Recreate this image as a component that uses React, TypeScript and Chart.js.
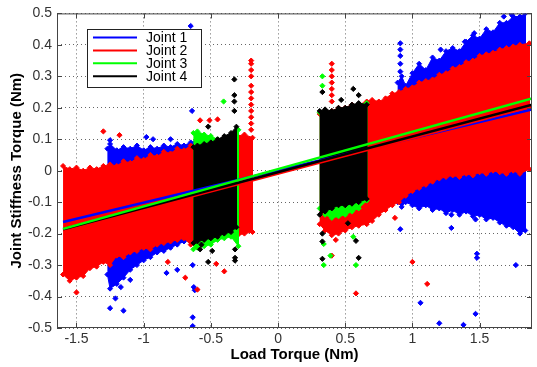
import React, { useEffect, useRef } from 'react';
import { Chart, registerables } from 'chart.js';

Chart.register(...registerables);

// ---------- axes ----------
const xTickValues = [-1.5, -1, -0.5, 0, 0.5, 1, 1.5];
const xTickLabels = ['-1.5', '-1', '-0.5', '0', '0.5', '1', '1.5'];
const yTickValues = [-0.5, -0.4, -0.3, -0.2, -0.1, 0, 0.1, 0.2, 0.3, 0.4, 0.5];
const yTickLabels = ['-0.5', '-0.4', '-0.3', '-0.2', '-0.1', '0', '0.1', '0.2', '0.3', '0.4', '0.5'];
const legendLabels = ['Joint 1', 'Joint 2', 'Joint 3', 'Joint 4'];

// ---------- Joint 1 (blue) clouds ----------
const j1LeftX = [-1.27, -1.25, -1.2, -1.15, -1.1, -1.05, -1.0, -0.95, -0.9, -0.85, -0.8, -0.75, -0.7, -0.65, -0.62];
const j1LeftUpper = [0.07, 0.085, 0.065, 0.075, 0.07, 0.08, 0.065, 0.075, 0.07, 0.08, 0.075, 0.085, 0.08, 0.09, 0.09];
const j1LeftLower = [-0.33, -0.375, -0.36, -0.34, -0.315, -0.3, -0.285, -0.275, -0.26, -0.255, -0.245, -0.235, -0.225, -0.215, -0.21];
const j1RightX = [0.89, 0.92, 0.95, 1.0, 1.05, 1.1, 1.15, 1.2, 1.25, 1.3, 1.35, 1.4, 1.45, 1.5, 1.55, 1.6, 1.65, 1.7, 1.75, 1.8, 1.84];
const j1RightUpper = [0.28, 0.3, 0.27, 0.31, 0.34, 0.32, 0.36, 0.35, 0.38, 0.39, 0.38, 0.41, 0.43, 0.42, 0.45, 0.44, 0.47, 0.47, 0.49, 0.49, 0.5];
const j1RightLower = [-0.1, -0.115, -0.1, -0.11, -0.12, -0.11, -0.125, -0.12, -0.135, -0.125, -0.14, -0.13, -0.145, -0.14, -0.155, -0.15, -0.165, -0.175, -0.18, -0.2, -0.19];
const j1OutX = [-0.65, -0.64, -1.25, -0.98, -0.93, -0.8, -1.25, -1.21, -1.15, -1.17, -1.1, -0.83, -0.75, -0.635, -0.627, -0.62, -0.635, -0.635, 0.91, 1.06, 1.2, 1.38, 1.47, 1.48, 1.48, 1.29, 1.29, 1.77, 1.47, 0.91, 0.91, 0.91, 0.91, 0.91, 1.21, 1.39, 1.46, 1.68, 1.74];
const j1OutY = [0.46, 0.19, 0.097, 0.107, 0.1, 0.1, -0.437, -0.406, -0.445, -0.37, -0.347, -0.325, -0.315, -0.3, -0.37, -0.38, -0.466, -0.494, -0.186, -0.42, -0.485, -0.49, -0.455, -0.264, -0.277, -0.182, -0.14, -0.3, -0.155, 0.405, 0.385, 0.365, 0.34, 0.315, 0.385, 0.41, 0.437, 0.49, 0.495];

// ---------- Joint 2 (red) clouds ----------
const j2LeftX = [-1.6, -1.55, -1.5, -1.45, -1.4, -1.35, -1.3, -1.25, -1.2, -1.15, -1.1, -1.05, -1.0, -0.95, -0.9, -0.85, -0.8, -0.75, -0.7, -0.65, -0.6, -0.5, -0.4, -0.3, -0.25, -0.19];
const j2LeftUpper = [0.015, 0.005, 0.01, 0.0, 0.01, 0.005, 0.015, 0.02, 0.015, 0.03, 0.025, 0.04, 0.035, 0.05, 0.045, 0.06, 0.055, 0.07, 0.065, 0.08, 0.085, 0.095, 0.105, 0.11, 0.115, 0.105];
const j2LeftLower = [-0.33, -0.35, -0.34, -0.335, -0.31, -0.305, -0.29, -0.3, -0.27, -0.275, -0.26, -0.255, -0.245, -0.25, -0.235, -0.23, -0.225, -0.22, -0.215, -0.235, -0.23, -0.22, -0.21, -0.205, -0.2, -0.195];
const j2RightX = [0.31, 0.35, 0.4, 0.45, 0.5, 0.55, 0.6, 0.66, 0.7, 0.75, 0.8, 0.85, 0.9, 0.95, 1.0, 1.05, 1.1, 1.15, 1.2, 1.25, 1.3, 1.35, 1.4, 1.45, 1.5, 1.55, 1.6, 1.65, 1.7, 1.75, 1.8, 1.87];
const j2RightUpper = [0.18, 0.19, 0.19, 0.2, 0.2, 0.21, 0.21, 0.22, 0.225, 0.22, 0.23, 0.245, 0.25, 0.26, 0.265, 0.28, 0.285, 0.29, 0.305, 0.31, 0.325, 0.33, 0.345, 0.35, 0.365, 0.37, 0.375, 0.385, 0.39, 0.395, 0.4, 0.405];
const j2RightLower = [-0.17, -0.19, -0.205, -0.2, -0.19, -0.18, -0.175, -0.17, -0.16, -0.14, -0.125, -0.11, -0.1, -0.08, -0.065, -0.055, -0.045, -0.035, -0.025, -0.02, -0.015, -0.02, -0.01, -0.015, -0.005, -0.01, 0.0, -0.005, -0.01, 0.0, -0.01, 0.005];
const j2OutX = [-1.3, -1.18, -0.58, -0.51, -0.45, -0.2, -0.2, -0.2, -0.2, -0.2, -0.2, -0.2, -0.2, -0.2, -0.2, -0.2, -0.2, -1.5, -0.82, -0.69, -0.6, -0.46, -0.4, 1.0, 1.11, 0.58, 0.4, 0.43, 0.87, 0.4, 0.4, 0.4, 0.4, 0.4, 0.4, 0.4];
const j2OutY = [0.125, 0.113, 0.16, 0.16, 0.163, 0.35, 0.34, 0.32, 0.3, 0.27, 0.25, 0.23, 0.21, 0.19, 0.17, 0.15, 0.13, -0.387, -0.29, -0.34, -0.378, -0.296, -0.32, -0.29, -0.36, -0.39, -0.27, -0.22, -0.15, 0.34, 0.32, 0.3, 0.28, 0.26, 0.24, 0.22];

// ---------- Joint 3 (green) clouds ----------
const j3LeftX = [-0.63, -0.6, -0.55, -0.5, -0.45, -0.4, -0.35, -0.295];
const j3LeftUpper = [0.12, 0.125, 0.115, 0.11, 0.1, 0.095, 0.1, 0.13];
const j3LeftLower = [-0.25, -0.245, -0.24, -0.235, -0.22, -0.215, -0.21, -0.24];
const j3RightX = [0.31, 0.35, 0.4, 0.45, 0.5, 0.55, 0.6, 0.66];
const j3RightUpper = [0.185, 0.19, 0.185, 0.195, 0.195, 0.2, 0.21, 0.215];
const j3RightLower = [-0.12, -0.14, -0.15, -0.145, -0.14, -0.13, -0.12, -0.095];
const j3OutX = [-0.405, 0.33, 0.33, 0.34, 0.39, 0.34, 0.56, 0.58];
const j3OutY = [0.22, 0.3, 0.27, -0.233, -0.27, -0.3, -0.21, -0.3];

// ---------- Joint 4 (black) clouds ----------
const j4LeftX = [-0.63, -0.6, -0.55, -0.5, -0.45, -0.4, -0.35, -0.31];
const j4LeftUpper = [0.075, 0.08, 0.085, 0.09, 0.1, 0.11, 0.12, 0.14];
const j4LeftLower = [-0.23, -0.225, -0.22, -0.215, -0.21, -0.2, -0.195, -0.18];
const j4RightX = [0.31, 0.35, 0.4, 0.45, 0.5, 0.55, 0.6, 0.66];
const j4RightUpper = [0.19, 0.195, 0.19, 0.2, 0.2, 0.21, 0.215, 0.21];
const j4RightLower = [-0.14, -0.13, -0.12, -0.11, -0.11, -0.105, -0.1, -0.09];
const j4OutX = [-0.325, -0.325, -0.325, -0.325, -0.52, -0.32, -0.32, -0.32, -0.52, -0.58, -0.49, -0.57, 0.33, 0.47, 0.56, 0.6, 0.33, 0.33, 0.33, 0.52, 0.6, 0.58];
const j4OutY = [0.29, 0.24, 0.22, 0.19, 0.14, -0.25, -0.277, -0.286, -0.29, -0.25, -0.255, -0.235, 0.25, 0.225, 0.26, 0.24, -0.2, -0.225, -0.28, -0.167, -0.277, -0.223];

// ---------- linear fits ----------
const fitX = [-1.6, 1.89];
const fit1Y = [-0.163, 0.195];
const fit2Y = [-0.19, 0.204];
const fit3Y = [-0.185, 0.23];
const fit4Y = [-0.186, 0.21];

const BLUE = '#0000ff';
const RED = '#ff0000';
const GREEN = '#00ff00';
const BLACK = '#000000';
const legendColors = [BLUE, RED, GREEN, BLACK];
const FONT = '"Liberation Sans", Arial, Helvetica, sans-serif';

function pts(xs: number[], ys: number[]) {
  return xs.map((x, i) => ({ x, y: ys[i] }));
}
function polygon(xs: number[], upper: number[], lower: number[]) {
  return [...pts(xs, upper), ...pts(xs, lower).reverse()];
}

function cloud(label: string, data: any[], color: string, order: number) {
  return {
    label, data, order,
    borderColor: color, backgroundColor: color,
    fill: 'shape', borderWidth: 1,
    pointRadius: 2.5, pointStyle: 'rectRot',
    pointBackgroundColor: color, pointBorderColor: color, pointBorderWidth: 1,
  };
}
function outliers(label: string, data: any[], color: string, order: number) {
  return {
    label, data, order, showLine: false,
    borderColor: color, backgroundColor: color,
    pointRadius: 2.6, pointStyle: 'rectRot',
    pointBackgroundColor: color, pointBorderColor: color, pointBorderWidth: 1,
  };
}
function fitLine(label: string, data: any[], color: string, order: number) {
  return { label, data, order, borderColor: color, backgroundColor: color, borderWidth: 2.5, pointRadius: 0, fill: false };
}

const framePlugin = {
  id: 'frameLegend',
  afterDraw(chart: any) {
    const { ctx, chartArea, scales } = chart;
    const { left, top, right, bottom } = chartArea;
    const xs = scales.x, ys = scales.y;
    ctx.save();
    ctx.strokeStyle = '#444';
    ctx.lineWidth = 1;
    ctx.strokeRect(left + 0.5, top + 0.5, right - left - 1, bottom - top - 1);
    ctx.beginPath();
    xTickValues.forEach((v) => {
      const px = Math.round(xs.getPixelForValue(v)) + 0.5;
      ctx.moveTo(px, bottom); ctx.lineTo(px, bottom - 5);
      ctx.moveTo(px, top); ctx.lineTo(px, top + 5);
    });
    yTickValues.forEach((v) => {
      const py = Math.round(ys.getPixelForValue(v)) + 0.5;
      ctx.moveTo(left, py); ctx.lineTo(left + 5, py);
      ctx.moveTo(right, py); ctx.lineTo(right - 5, py);
    });
    ctx.stroke();

    // legend box
    const bx = 87, by = 29, bw = 114, bh = 58;
    ctx.fillStyle = '#ffffff';
    ctx.fillRect(bx, by, bw, bh);
    ctx.strokeStyle = '#222';
    ctx.strokeRect(bx + 0.5, by + 0.5, bw, bh);
    ctx.font = '14px ' + FONT;
    ctx.textBaseline = 'middle';
    ctx.textAlign = 'left';
    legendLabels.forEach((lab, i) => {
      const ry = 37.5 + i * 12.9;
      ctx.strokeStyle = legendColors[i];
      ctx.lineWidth = 2;
      ctx.beginPath();
      ctx.moveTo(93, ry); ctx.lineTo(137, ry);
      ctx.stroke();
      ctx.fillStyle = '#000';
      ctx.fillText(lab, 146, ry + 0.5);
    });
    ctx.restore();
  },
};

export default function App() {
  const ref = useRef<HTMLCanvasElement | null>(null);
  useEffect(() => {
    if (!ref.current) return;
    const datasets: any[] = [
      fitLine('Joint 3 fit', pts(fitX, fit3Y), GREEN, 0),
      fitLine('Joint 4 fit', pts(fitX, fit4Y), BLACK, 1),
      fitLine('Joint 2 fit', pts(fitX, fit2Y), RED, 2),
      fitLine('Joint 1 fit', pts(fitX, fit1Y), BLUE, 3),
      outliers('Joint 4 out', pts(j4OutX, j4OutY), BLACK, 10),
      cloud('Joint 4 left', polygon(j4LeftX, j4LeftUpper, j4LeftLower), BLACK, 10),
      cloud('Joint 4 right', polygon(j4RightX, j4RightUpper, j4RightLower), BLACK, 10),
      outliers('Joint 3 out', pts(j3OutX, j3OutY), GREEN, 11),
      cloud('Joint 3 left', polygon(j3LeftX, j3LeftUpper, j3LeftLower), GREEN, 11),
      cloud('Joint 3 right', polygon(j3RightX, j3RightUpper, j3RightLower), GREEN, 11),
      outliers('Joint 2 out', pts(j2OutX, j2OutY), RED, 12),
      cloud('Joint 2 left', polygon(j2LeftX, j2LeftUpper, j2LeftLower), RED, 12),
      cloud('Joint 2 right', polygon(j2RightX, j2RightUpper, j2RightLower), RED, 12),
      outliers('Joint 1 out', pts(j1OutX, j1OutY), BLUE, 13),
      cloud('Joint 1 left', polygon(j1LeftX, j1LeftUpper, j1LeftLower), BLUE, 13),
      cloud('Joint 1 right', polygon(j1RightX, j1RightUpper, j1RightLower), BLUE, 13),
    ];
    const chart = new Chart(ref.current, {
      type: 'line',
      data: { datasets },
      options: {
        animation: false,
        responsive: false,
        events: [],
        layout: { padding: { top: 10, right: 1, left: 0, bottom: 0 } },
        plugins: { legend: { display: false }, tooltip: { enabled: false } },
        scales: {
          x: {
            type: 'linear',
            min: -1.645,
            max: 1.89,
            afterBuildTicks: (axis: any) => { axis.ticks = xTickValues.map((v) => ({ value: v })); },
            afterFit: (s: any) => { s.height = 39; },
            ticks: {
              callback: (_v: any, i: number) => xTickLabels[i],
              font: { family: FONT, size: 14 },
              color: '#333',
              padding: 3,
              maxRotation: 0,
              autoSkip: false,
            },
            grid: { color: '#666', lineWidth: 1, drawTicks: false },
            border: { display: false, dash: [1, 3] },
            title: {
              display: true,
              text: 'Load Torque (Nm)',
              font: { family: FONT, size: 15, weight: 'bold' },
              color: '#000',
              padding: { top: 0, bottom: 3 },
            },
          },
          y: {
            type: 'linear',
            min: -0.5,
            max: 0.5,
            afterBuildTicks: (axis: any) => { axis.ticks = yTickValues.map((v) => ({ value: v })); },
            afterFit: (s: any) => { s.width = 57; },
            ticks: {
              callback: (_v: any, i: number) => yTickLabels[i],
              font: { family: FONT, size: 14 },
              color: '#333',
              padding: 5,
              autoSkip: false,
            },
            grid: { color: '#666', lineWidth: 1, drawTicks: false },
            border: { display: false, dash: [1, 3] },
            title: {
              display: true,
              text: 'Joint Stiffness Torque (Nm)',
              font: { family: FONT, size: 15, weight: 'bold' },
              color: '#000',
              padding: { top: 7.5, bottom: 0 },
            },
          },
        },
      } as any,
      plugins: [framePlugin],
    });
    return () => chart.destroy();
  }, []);
  return (
    <div style={{ position: 'absolute', left: 0, top: 0, width: 537, height: 367, background: '#fff' }}>
      <canvas ref={ref} width={537} height={367} style={{ display: 'block' }} />
    </div>
  );
}
